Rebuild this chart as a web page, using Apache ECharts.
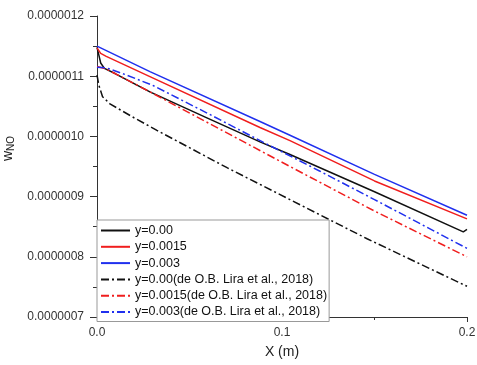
<!DOCTYPE html>
<html>
<head>
<meta charset="utf-8">
<script src="https://cdn.jsdelivr.net/npm/echarts@6/dist/echarts.min.js"></script>
<style>
  html, body { margin: 0; padding: 0; background: #fff; }
  #chart { width: 477px; height: 365px; }
</style>
</head>
<body>
<div id="chart"></div>
<script>
// Mass fraction of NO along the channel, X (m) vs w_NO
const seriesNames = [
  'y=0.00',
  'y=0.0015',
  'y=0.003',
  'y=0.00(de O.B. Lira et al., 2018)',
  'y=0.0015(de O.B. Lira et al., 2018)',
  'y=0.003(de O.B. Lira et al., 2018)'
];

// present model, y = 0.00
const simY000 = [
  [0, 1.148e-6], [0.001, 1.135e-6], [0.002, 1.122e-6], [0.004, 1.113e-6],
  [0.01, 1.104e-6], [0.0286, 1.074e-6], [0.06, 1.030e-6], [0.0881, 0.991e-6],
  [0.1043, 0.970e-6], [0.15, 0.908e-6], [0.198, 0.8415e-6], [0.2, 0.8455e-6]
];
// present model, y = 0.0015
const simY0015 = [
  [0, 1.147e-6], [0.002, 1.138e-6], [0.005, 1.133e-6], [0.0286, 1.0993e-6],
  [0.0881, 1.0148e-6], [0.1043, 0.993e-6], [0.15, 0.926e-6], [0.2, 0.863e-6]
];
// present model, y = 0.003
const simY003 = [
  [0, 1.150e-6], [0.0286, 1.1076e-6], [0.0881, 1.0247e-6], [0.1043, 1.002e-6],
  [0.15, 0.937e-6], [0.2, 0.869e-6]
];
// de O.B. Lira et al. (2018), y = 0.00
const liraY000 = [
  [0, 1.102e-6], [0.001, 1.085e-6], [0.003, 1.066e-6], [0.007, 1.054e-6],
  [0.02, 1.031e-6], [0.0324, 1.010e-6], [0.0703, 0.948e-6], [0.1043, 0.895e-6],
  [0.146, 0.830e-6], [0.2, 0.751e-6]
];
// de O.B. Lira et al. (2018), y = 0.0015
const liraY0015 = [
  [0, 1.116e-6], [0.005, 1.112e-6], [0.0286, 1.074e-6], [0.1043, 0.950e-6],
  [0.15, 0.876e-6], [0.2, 0.800e-6]
];
// de O.B. Lira et al. (2018), y = 0.003
const liraY003 = [
  [0, 1.115e-6], [0.005, 1.114e-6], [0.015, 1.103e-6], [0.03, 1.085e-6],
  [0.06, 1.038e-6], [0.09, 0.990e-6], [0.12, 0.943e-6], [0.15, 0.895e-6],
  [0.2, 0.814e-6]
];

const xTicks = { min: 0, max: 0.2, step: 0.1 };
const yTicks = { min: 7e-7, max: 1.2e-6, step: 1e-7 };

const colors = ['#111111', '#f01e1e', '#2030ee', '#111111', '#f01e1e', '#2030ee'];
const dashDot = [8, 3, 2, 3];
const seriesData = [simY000, simY0015, simY003, liraY000, liraY0015, liraY003];

const chart = echarts.init(document.getElementById('chart'), null, { renderer: 'canvas' });

const font = '"Liberation Sans", Arial, sans-serif';

chart.setOption({
  animation: false,
  backgroundColor: '#ffffff',
  grid: { left: 97, right: 10, top: 16, bottom: 48, containLabel: false, outerBoundsMode: 'none' },
  xAxis: {
    type: 'value',
    min: xTicks.min, max: xTicks.max, interval: xTicks.step,
    name: 'X (m)', nameLocation: 'middle', nameGap: 28,
    nameTextStyle: { fontFamily: font, fontSize: 14, color: '#222' },
    axisLine: { show: true, lineStyle: { color: '#333', width: 1 } },
    axisTick: { show: true, inside: false, length: 5, lineStyle: { color: '#333' } },
    minorTick: { show: true, splitNumber: 2, length: 3, lineStyle: { color: '#333' } },
    splitLine: { show: false },
    axisLabel: { fontFamily: font, fontSize: 12, color: '#333', margin: 10,
      formatter: v => v.toFixed(1) }
  },
  yAxis: {
    type: 'value',
    min: yTicks.min, max: yTicks.max, interval: yTicks.step,
    name: 'w{sub|NO}', nameLocation: 'middle', nameGap: 77, nameRotate: 90,
    nameTextStyle: { fontFamily: font, fontSize: 14, color: '#222', padding: [0, 0, 0, 36],
      rich: { sub: { fontFamily: font, fontSize: 10, color: '#222', verticalAlign: 'bottom', padding: [6, 0, 0, 0] } } },
    axisLine: { show: true, lineStyle: { color: '#333', width: 1 } },
    axisTick: { show: true, inside: false, length: 7, lineStyle: { color: '#333' } },
    minorTick: { show: true, splitNumber: 2, length: 4, lineStyle: { color: '#333' } },
    splitLine: { show: false },
    axisLabel: { fontFamily: font, fontSize: 12, color: '#333', margin: 13,
      formatter: v => v.toFixed(7) }
  },
  legend: {
    orient: 'vertical',
    left: 97, top: 220,
    padding: [4, 2, 3, 3],
    itemWidth: 29, itemHeight: 12, itemGap: 3.3,
    backgroundColor: '#ffffff',
    borderColor: '#999', borderWidth: 1, borderRadius: 0,
    itemStyle: { opacity: 0 },
    textStyle: { fontFamily: font, fontSize: 12.5, color: '#111' },
    data: seriesNames
  },
  series: seriesNames.map((name, i) => ({
    name,
    type: 'line',
    data: seriesData[i],
    showSymbol: false,
    symbol: 'none',
    smooth: false,
    z: 2,
    color: colors[i],
    lineStyle: { color: colors[i], width: 1.5, type: i < 3 ? 'solid' : dashDot }
  }))
});
</script>
</body>
</html>
